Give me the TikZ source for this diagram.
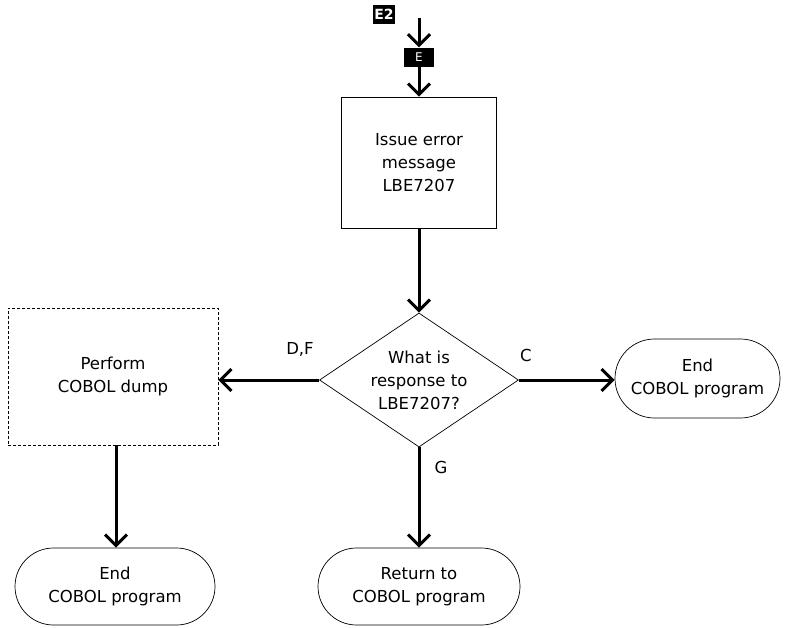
\documentclass[tikz,border=0pt]{standalone}
\usepackage{fontspec}
\setmainfont{DejaVu Sans}
\usetikzlibrary{arrows.meta,shapes.geometric,shapes.misc}
\tikzset{
flow/.style={line width=3pt,-{Straight Barb[length=11pt,width=22pt,line width=3pt]}},
procbox/.style={draw,line width=0.7pt,rectangle,align=center,inner sep=0pt},
dumpbox/.style={draw,line width=0.7pt,densely dashed,rectangle,align=center,inner sep=0pt},
decbox/.style={draw,line width=0.7pt,diamond,aspect=1.49,align=center,inner sep=0pt},
termbox/.style={draw,line width=0.7pt,rounded rectangle,align=center,inner sep=0pt},
tag/.style={fill=black,text=white,inner sep=0pt},
lbl/.style={inner sep=1pt}
}
\begin{document}
\begin{tikzpicture}[x=1pt,y=-1pt,font=\fontsize{16.5}{23}\selectfont]
\useasboundingbox (0,0) rectangle (809,627);
% the boxes
\node[tag,minimum width=22,minimum height=19,font=\fontsize{14}{14}\selectfont\bfseries] (e2) at (384,14) {E2};
\coordinate (top) at (419,18);
\node[tag,minimum width=30,minimum height=19,font=\fontsize{12}{12}\selectfont] (ent) at (419,57) {E};
\node[procbox,minimum width=155,minimum height=131] (issue) at (419,162.5) {Issue error\\message\\LBE7207};
\node[decbox,minimum width=199,minimum height=134] (resp) at (419,380) {What is\\response to\\LBE7207?};
\node[dumpbox,minimum width=210,minimum height=137] (dump) at (113,376.5) {Perform\\COBOL dump};
\node[termbox,minimum width=165,minimum height=79] (endr) at (697.5,378.5) {End\\COBOL program};
\node[termbox,minimum width=202,minimum height=77] (ret) at (419,586.5) {Return to\\COBOL program};
\node[termbox,minimum width=200,minimum height=77] (endl) at (115,586.5) {End\\COBOL program};
% the arrows
\draw[flow] (top) -- (ent.north);
\draw[flow] (ent.south) -- (issue.north);
\draw[flow] (issue.south) -- (resp.north);
\draw[flow] (resp.west) -- (resp.west -| dump.east);
\draw[flow] (resp.east) -- (resp.east -| endr.west);
\draw[flow] (resp.south) -- (ret.north);
\draw[flow] ([xshift=3pt]dump.south) -- ([xshift=3pt]dump.south |- endl.north);
% the labels
\node[lbl] (df) at (300,349) {D,F};
\node[lbl] (c) at (526,355) {C};
\node[lbl] (g) at (441,467) {G};
\end{tikzpicture}
\end{document}
